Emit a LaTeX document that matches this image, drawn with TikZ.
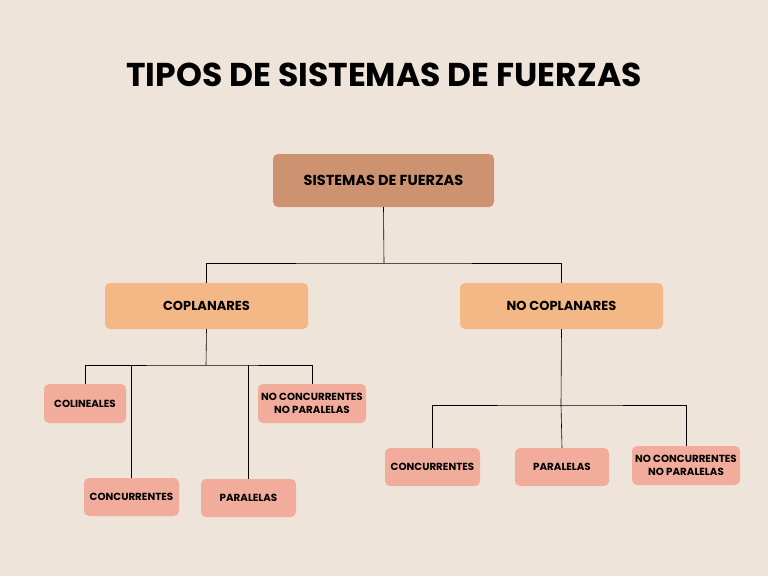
\documentclass[tikz,border=0pt]{standalone}
\usepackage{fontspec}
\setmainfont{Poppins}
\definecolor{bg}{HTML}{EFE4DA}
\definecolor{rootc}{HTML}{CD9270}
\definecolor{midc}{HTML}{F4B886}
\definecolor{leafc}{HTML}{F2AC9C}
\tikzset{
 box/.style={fill=#1,rounded corners=5pt,draw=none,inner sep=0pt,align=center,font=\bfseries\fontsize{10.3}{12.5}\selectfont},
 ln/.style={draw=black,line width=0.6pt}
}
\begin{document}
\begin{tikzpicture}[x=1pt,y=-1pt]
\useasboundingbox[fill=bg] (0,0) rectangle (768,576);
\node[font=\bfseries\fontsize{33}{36}\selectfont] (title) at (384,75) {TIPOS DE SISTEMAS DE FUERZAS};
\node[box=rootc,minimum width=221pt,minimum height=53pt,font=\bfseries\fontsize{14.5}{17}\selectfont] (root) at (383.5,180.5) {SISTEMAS DE FUERZAS};
\node[box=midc,minimum width=203pt,minimum height=46pt,font=\bfseries\fontsize{13}{15}\selectfont] (cop) at (206.5,306) {COPLANARES};
\node[box=midc,minimum width=203pt,minimum height=46pt,font=\bfseries\fontsize{13}{15}\selectfont] (ncop) at (561.5,306) {NO COPLANARES};
\node[box=leafc,minimum width=82pt,minimum height=39pt] (col) at (85,403.5) {COLINEALES};
\node[box=leafc,minimum width=95pt,minimum height=38pt] (con1) at (131.5,497) {CONCURRENTES};
\node[box=leafc,minimum width=95pt,minimum height=38pt] (par1) at (248.5,498) {PARALELAS};
\node[box=leafc,minimum width=108pt,minimum height=39pt] (nc1) at (312,403.5) {NO CONCURRENTES\\NO PARALELAS};
\node[box=leafc,minimum width=95pt,minimum height=38pt] (con2) at (432.5,467) {CONCURRENTES};
\node[box=leafc,minimum width=94pt,minimum height=38pt] (par2) at (562,467) {PARALELAS};
\node[box=leafc,minimum width=108pt,minimum height=39pt] (nc2) at (686,465.5) {NO CONCURRENTES\\NO PARALELAS};
\coordinate (j0) at (384,263);
\coordinate (j1) at (206,365);
\coordinate (j2) at (561,405);
\draw[ln] (root.south) -- (j0);
\draw[ln] (cop.north) |- (j0) -| (ncop.north);
\draw[ln] (cop.south) -- (j1);
\draw[ln] (col.north) |- (j1) -| (nc1.north);
\draw[ln] (j1 -| con1) -- (con1.north);
\draw[ln] (j1 -| par1) -- (par1.north);
\draw[ln] (ncop.south) -- (j2);
\draw[ln] (con2.north) |- (j2) -| (nc2.north);
\draw[ln] (j2) -- (par2.north);
\end{tikzpicture}
\end{document}
